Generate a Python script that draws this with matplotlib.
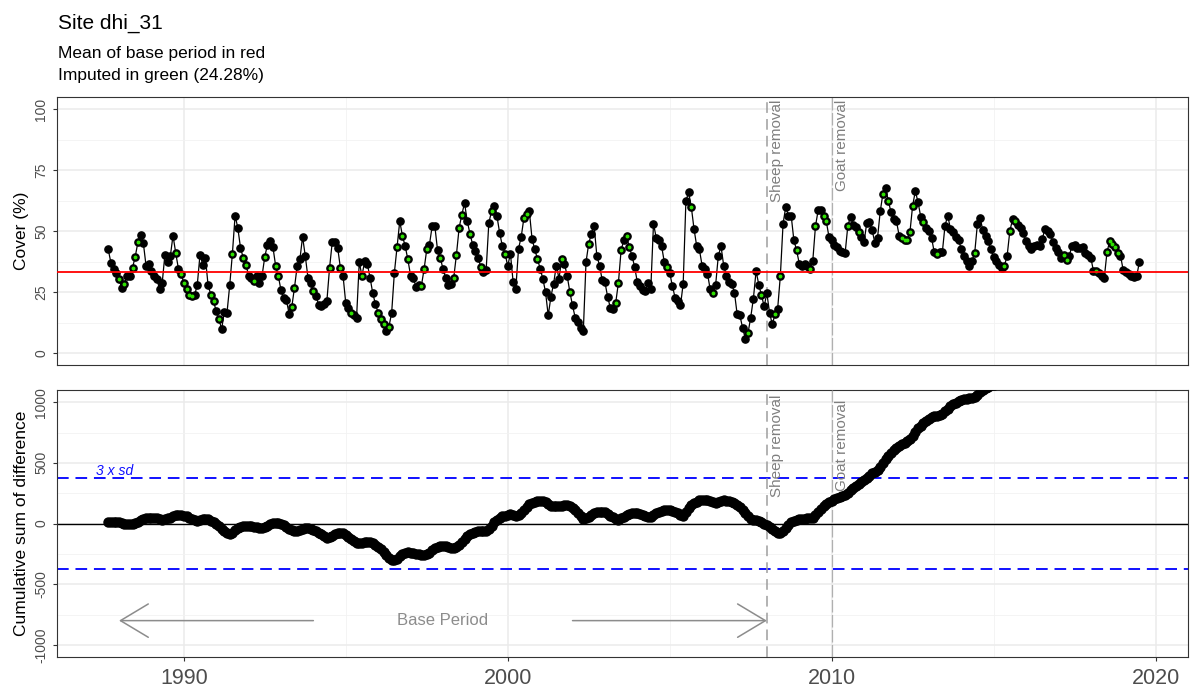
import numpy as np
import pandas as pd
import matplotlib
matplotlib.use("Agg")
import matplotlib.pyplot as plt
from matplotlib.ticker import MultipleLocator

plt.rcParams['font.family'] = ['Liberation Sans', 'DejaVu Sans']

# monthly cover (%) from Sep 1987 to Jul 2019
cover = [
    42.5, 37.0, 34.3, 32.9, 30.2, 26.8, 28.5, 31.6, 31.8, 35.0, 39.5, 45.5, 48.6, 45.2, 35.9, 36.7,
    33.6, 31.8, 30.5, 26.1, 28.8, 40.4, 37.3, 39.7, 48.2, 41.1, 34.6, 32.5, 28.8, 26.1, 24.0, 23.4,
    23.6, 28.1, 40.4, 36.3, 39.1, 27.7, 24.0, 21.3, 17.2, 14.1, 9.7, 16.8, 16.5, 27.7, 40.8,
    56.4, 51.4, 43.2, 39.1, 36.3, 31.8, 30.9, 29.5, 31.6, 28.8, 31.8, 39.5, 44.5, 45.9, 43.6, 35.9,
    31.6, 25.8, 22.7, 21.7, 16.2, 18.9, 26.8, 35.7, 38.4, 47.7, 39.8, 30.9, 28.6, 25.4, 23.4, 19.5,
    19.2, 19.9, 21.3, 35.0, 45.6, 45.6, 43.2, 35.0, 31.6, 20.4, 18.6, 16.5, 15.4, 14.5, 37.3, 31.6, 37.7,
    36.5, 30.9, 24.5, 20.0, 16.5, 14.1, 11.8, 9.0, 10.8, 16.5, 32.9, 43.6, 54.1, 48.0, 43.9, 38.4,
    31.8, 30.9, 27.2, 27.7, 27.5, 34.3, 42.5, 44.5, 52.0, 52.0, 42.2, 39.1, 34.6, 30.9, 27.7, 28.5,
    30.9, 40.4, 51.4, 56.8, 61.6, 54.1, 49.0, 44.5, 41.8, 39.1, 35.4, 33.2, 34.0, 53.4, 58.2, 60.2,
    56.2, 49.3, 44.0,
    40.8, 35.7, 40.8, 29.1, 26.4, 42.8, 47.7, 55.5, 57.2, 58.2, 46.9, 42.5, 38.7, 34.6, 30.5, 25.0,
    15.4, 23.1, 28.5, 35.9, 30.5, 38.7, 36.7, 31.8, 25.1, 19.5, 14.5, 12.7, 10.4, 9.0, 37.3, 44.9,
    49.0, 52.3, 40.0, 35.9, 29.9, 29.1, 23.1, 18.6, 18.2, 20.6, 28.8, 42.2, 46.3, 48.0, 43.6, 40.0,
    35.4, 29.1,
    27.5, 25.8, 25.4, 28.8, 26.4, 53.1, 47.3, 46.3, 43.9, 37.3, 35.4, 32.9, 27.5, 22.7, 21.3, 19.5,
    28.5, 62.3, 66.0, 60.0, 51.0, 43.9, 42.5, 35.9, 34.6, 32.6, 26.1, 24.5, 27.7, 39.8, 43.9, 35.9,
    31.8, 29.1, 28.5, 24.7, 15.8, 15.4, 10.4, 5.9, 8.1, 14.5, 22.3, 33.6, 28.1, 23.6, 19.2, 24.5, 16.5,
    11.8, 15.8, 18.2, 31.8, 53.1, 60.0, 56.4, 56.4, 46.3, 42.2, 36.7, 35.9, 36.7, 35.7, 34.6, 37.7,
    52.0, 58.6, 58.6, 56.4, 54.1, 47.7, 46.3, 44.5, 43.6, 41.8, 41.4, 41.1, 52.3, 55.9, 52.7, 51.8,
    49.6, 47.7, 45.5, 53.4, 53.7, 50.4, 45.2, 47.3, 58.2, 65.4, 67.8, 62.3, 57.8, 54.8, 54.1, 48.2,
    47.3, 46.3, 46.3,
    49.6, 60.5, 66.4, 61.9, 55.9, 53.7, 51.4, 50.0, 47.3, 41.4, 40.8, 41.4, 41.4, 52.3, 56.4, 51.0,
    49.6, 47.7, 46.3, 42.8, 39.8, 37.7, 35.9, 37.7, 41.1, 53.1, 55.5, 50.4, 48.2, 45.9, 42.5, 39.5,
    37.7, 36.3, 35.0, 35.9, 39.8, 50.0, 54.8, 54.1, 52.7, 51.4, 49.3, 45.9, 43.9, 42.8, 43.9, 44.5,
    44.1, 46.6, 51.0, 50.0, 49.0, 45.5, 43.2, 41.4, 39.1, 40.4, 38.1, 39.8, 43.9, 44.5, 43.2, 43.2,
    43.6, 41.1, 40.4, 39.1, 33.6, 33.6, 32.9, 31.8, 30.9, 41.4, 45.9, 44.9, 43.6, 41.1, 40.0, 34.0,
    33.2, 32.6, 31.8, 31.3, 31.6, 37.3,
]

# month positions (0 = Sep 1987) of the imputed values
imputed_idx = [
    4, 6, 9, 10, 11, 25, 27, 28, 29, 30, 31, 38, 39, 41, 46, 50, 51, 54, 58, 62, 63, 68, 69, 76,
    82, 86, 90, 94, 100, 101, 102, 104, 107, 109, 111, 116, 117, 118, 123, 128, 129, 130, 131,
    134, 138, 142, 147, 154, 155, 159, 168, 171, 178, 188, 189, 190, 192, 193, 207, 216, 224,
    237, 242, 247, 249, 255, 260, 262, 265, 266, 274, 278, 287, 289, 294, 295, 296, 297, 298,
    302, 307, 321, 332, 334, 336, 354, 355, 366, 370, 371, 372, 373, 374,
]

site = "dhi_31"
sheep_removal = 2008.0
goat_removal = 2010.0
sd3 = 372          # 3 x sd threshold

dates = pd.date_range("1987-09-01", periods=len(cover), freq="MS")
t = dates.year + (dates.month - 1) / 12.0
cover = np.array(cover)
imp = np.zeros(len(cover), dtype=bool)
imp[imputed_idx] = True

base = t < sheep_removal
base_mean = cover[base].mean()
cusum = np.cumsum(cover - base_mean)

fig = plt.figure(figsize=(11.9, 6.89), dpi=100)
ax1 = fig.add_axes([0.0483, 0.470, 0.950, 0.389])
ax2 = fig.add_axes([0.0483, 0.0464, 0.950, 0.3875])

xlim = (1986.1, 2021.0)
tick_grey = '#4D4D4D'

for ax in (ax1, ax2):
    ax.set_xlim(*xlim)
    ax.xaxis.set_major_locator(MultipleLocator(10))
    ax.xaxis.set_minor_locator(MultipleLocator(5))
    ax.grid(which='major', color='#EBEBEB', lw=1.1, zorder=0)
    ax.grid(which='minor', color='#F2F2F2', lw=0.6, zorder=0)
    for s in ax.spines.values():
        s.set_color('#333333')
        s.set_linewidth(0.8)
    ax.tick_params(which='minor', length=0)
    ax.tick_params(axis='y', colors='#333333', labelcolor=tick_grey, labelsize=10, length=3)
    ax.set_axisbelow(True)

# top panel
ax1.set_ylim(-5, 105)
ax1.yaxis.set_major_locator(MultipleLocator(25))
ax1.yaxis.set_minor_locator(MultipleLocator(12.5))
ax1.tick_params(axis='x', length=0, labelbottom=False)
for lab in ax1.get_yticklabels():
    lab.set_rotation(90)
    lab.set_va('center')
ax1.plot(t, cover, color='black', lw=0.9, zorder=3)
ax1.plot(t, cover, 'o', color='black', ms=5.2, zorder=4)
ax1.plot(t[imp], cover[imp], 'o', color='#2EE000', ms=1.8, zorder=5)
ax1.axhline(base_mean, color='red', lw=1.3, zorder=6)
ax1.axvline(sheep_removal, color='#9E9E9E', lw=1.1, ls=(0, (7, 4)), zorder=2)
ax1.axvline(goat_removal, color='#B0B0B0', lw=0.9, ls=(0, (10, 2)), zorder=2)
ax1.text(sheep_removal + 0.1, 103.8, 'Sheep removal', rotation=90, va='top', ha='left',
         color='#7F7F7F', fontsize=11)
ax1.text(goat_removal + 0.1, 103.8, 'Goat removal', rotation=90, va='top', ha='left',
         color='#7F7F7F', fontsize=11)
ax1.set_ylabel('Cover (%)', fontsize=12.5, labelpad=4)

# bottom panel
ax2.set_ylim(-1100, 1100)
ax2.yaxis.set_major_locator(MultipleLocator(500))
ax2.yaxis.set_minor_locator(MultipleLocator(250))
ax2.tick_params(axis='x', colors='#333333', labelcolor=tick_grey, labelsize=15.5, length=3,
                pad=5)
ax2.set_yticks([-1000, -500, 0, 500, 1000])
ax2.set_yticklabels(['-1000', '-500', '0', '500', '1000'], rotation=90, va='center')
ax2.axhline(0, color='black', lw=1.0, zorder=2)
ax2.axhline(sd3, color='#1010FF', lw=1.4, ls=(0, (6, 3.5)), zorder=2)
ax2.axhline(-sd3, color='#1010FF', lw=1.4, ls=(0, (6, 3.5)), zorder=2)
ax2.text(1987.3, sd3 + 5, '3 x sd', color='#1010FF', style='italic', fontsize=10,
         ha='left', va='bottom')
ax2.plot(t, cusum, color='black', lw=2, zorder=4)
ax2.plot(t, cusum, 'o', color='black', ms=6.5, zorder=4)
ax2.axvline(sheep_removal, color='#9E9E9E', lw=1.1, ls=(0, (7, 4)), zorder=3)
ax2.axvline(goat_removal, color='#B0B0B0', lw=0.9, ls=(0, (10, 2)), zorder=3)
ax2.text(sheep_removal + 0.1, 1060, 'Sheep removal', rotation=90, va='top', ha='left',
         color='#7F7F7F', fontsize=11, zorder=5)
ax2.text(goat_removal + 0.1, 1020, 'Goat removal', rotation=90, va='top', ha='left',
         color='#7F7F7F', fontsize=11, zorder=5)
arrow = dict(arrowstyle='->,head_length=1.0,head_width=0.6', color='#8C8C8C', lw=1.1,
             mutation_scale=20, shrinkA=0, shrinkB=0)
ax2.annotate('', xy=(1988.0, -800), xytext=(1994.0, -800), arrowprops=arrow)
ax2.annotate('', xy=(2008.0, -800), xytext=(2002.0, -800), arrowprops=arrow)
ax2.text(1998.0, -800, 'Base Period', ha='center', va='center', color='#8C8C8C', fontsize=12)
ax2.set_ylabel('Cumulative sum of difference', fontsize=12.5, labelpad=4)

# titles
pct = 100.0 * imp.sum() / len(imp)
fig.text(0.049, 0.966, f'Site {site}', fontsize=15, ha='left', va='center')
fig.text(0.049, 0.922, 'Mean of base period in red', fontsize=12.5, ha='left', va='center')
fig.text(0.049, 0.891, f'Imputed in green ({pct:.2f}%)', fontsize=12.5, ha='left', va='center')

fig.savefig('out.png', dpi=100)
